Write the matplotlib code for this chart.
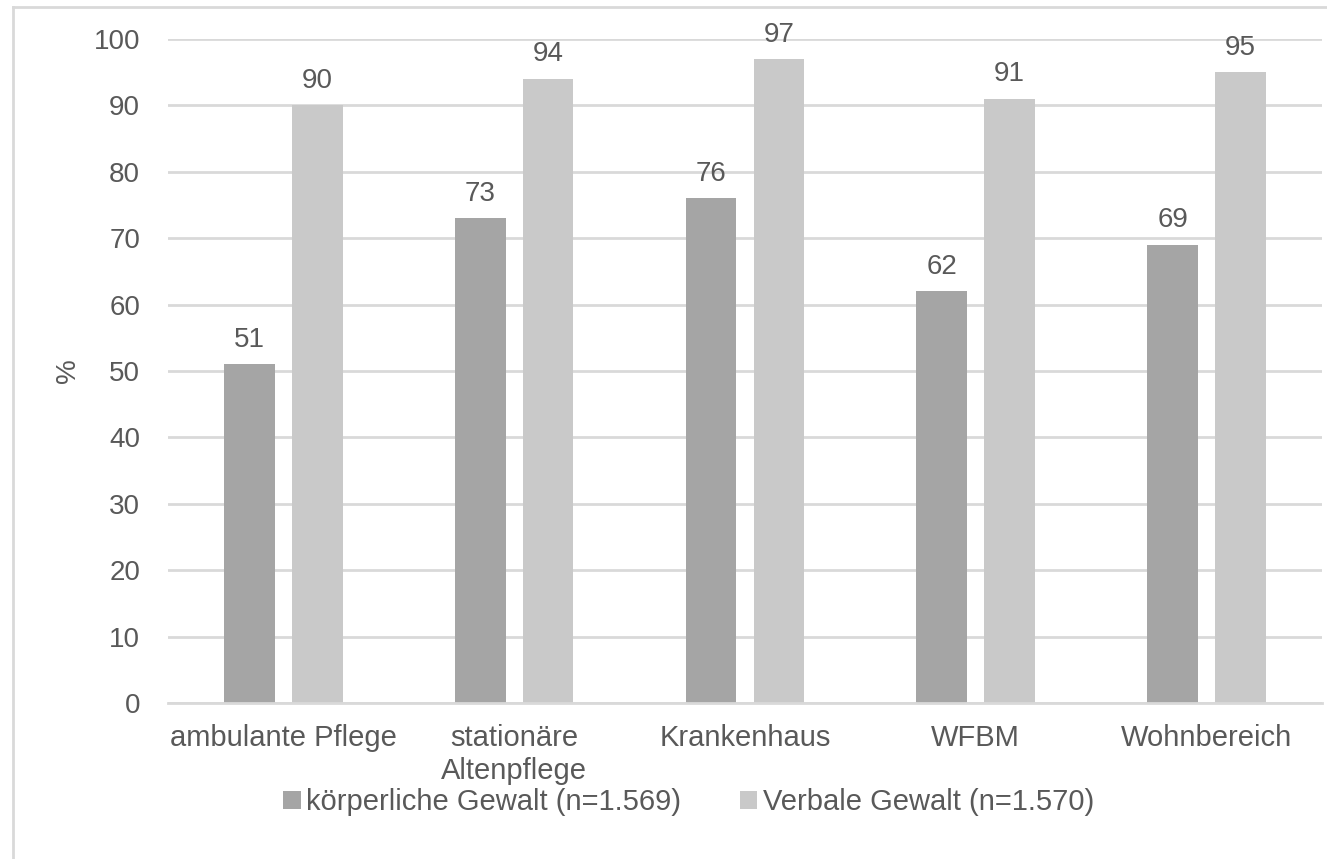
import matplotlib.pyplot as plt
import numpy as np
from matplotlib.lines import Line2D
from matplotlib.patches import Patch

plt.rcParams["font.family"] = ["Liberation Sans", "DejaVu Sans"]

CATEGORIES = ["ambulante Pflege", "stationäre\nAltenpflege", "Krankenhaus", "WFBM", "Wohnbereich"]
KOERPERLICH = [51, 73, 76, 62, 69]
VERBAL = [90, 94, 97, 91, 95]
SERIES_LABELS = ["körperliche Gewalt (n=1.569)", "Verbale Gewalt (n=1.570)"]

TEXT = "#595959"
GRID = "#d9d9d9"
COLORS = ["#a5a5a5", "#c9c9c9"]
FS = 20
FS_LABEL = 21

fig = plt.figure(figsize=(13.27, 8.59), dpi=100)
ax = fig.add_axes([0.1266, 0.1816, 0.8696, 0.773])

x = np.arange(len(CATEGORIES))
width = 0.22
offset = 0.147
for values, color, dx in [(KOERPERLICH, COLORS[0], -offset), (VERBAL, COLORS[1], offset)]:
    bars = ax.bar(x + dx, values, width=width, color=color, zorder=3)
    for bar, value in zip(bars, values):
        ax.annotate(
            f"{value}",
            (bar.get_x() + bar.get_width() / 2, bar.get_height()),
            xytext=(0, 12.5),
            textcoords="offset points",
            ha="center",
            va="baseline",
            fontsize=FS,
            color=TEXT,
        )

ax.set_xlim(-0.5, len(CATEGORIES) - 0.5)
ax.set_ylim(0, 100)
ax.set_yticks(np.arange(0, 101, 10))
ax.set_xticks(x)
ax.set_xticklabels(CATEGORIES, linespacing=1.25, fontsize=FS_LABEL)
ax.tick_params(axis="both", length=0, colors=TEXT)
ax.tick_params(axis="y", labelsize=FS, pad=20)
ax.tick_params(axis="x", pad=15)
ax.grid(axis="y", color=GRID, lw=2, zorder=0)
for side in ["top", "right", "left"]:
    ax.spines[side].set_visible(False)
ax.spines["bottom"].set_color(GRID)
ax.spines["bottom"].set_linewidth(2)
ax.spines["bottom"].set_zorder(4)
ax.set_ylabel("%", color=TEXT, fontsize=FS, labelpad=9)

handles = [Patch(facecolor=c, edgecolor="none") for c in COLORS]
fig.legend(
    handles,
    SERIES_LABELS,
    loc="center",
    bbox_to_anchor=(0.519, 0.066),
    ncol=2,
    frameon=False,
    fontsize=FS_LABEL,
    labelcolor=TEXT,
    handlelength=0.6,
    handleheight=0.6,
    handletextpad=0.2,
    columnspacing=2.0,
)

# chart frame (only left and top edges fall inside the canvas)
fig.add_artist(Line2D([13 / 1327, 13 / 1327], [0, 1 - 7 / 859], transform=fig.transFigure, color=GRID, lw=2))
fig.add_artist(Line2D([13 / 1327, 1], [1 - 7 / 859, 1 - 7 / 859], transform=fig.transFigure, color=GRID, lw=2))

fig.savefig("out.png", dpi=100)
